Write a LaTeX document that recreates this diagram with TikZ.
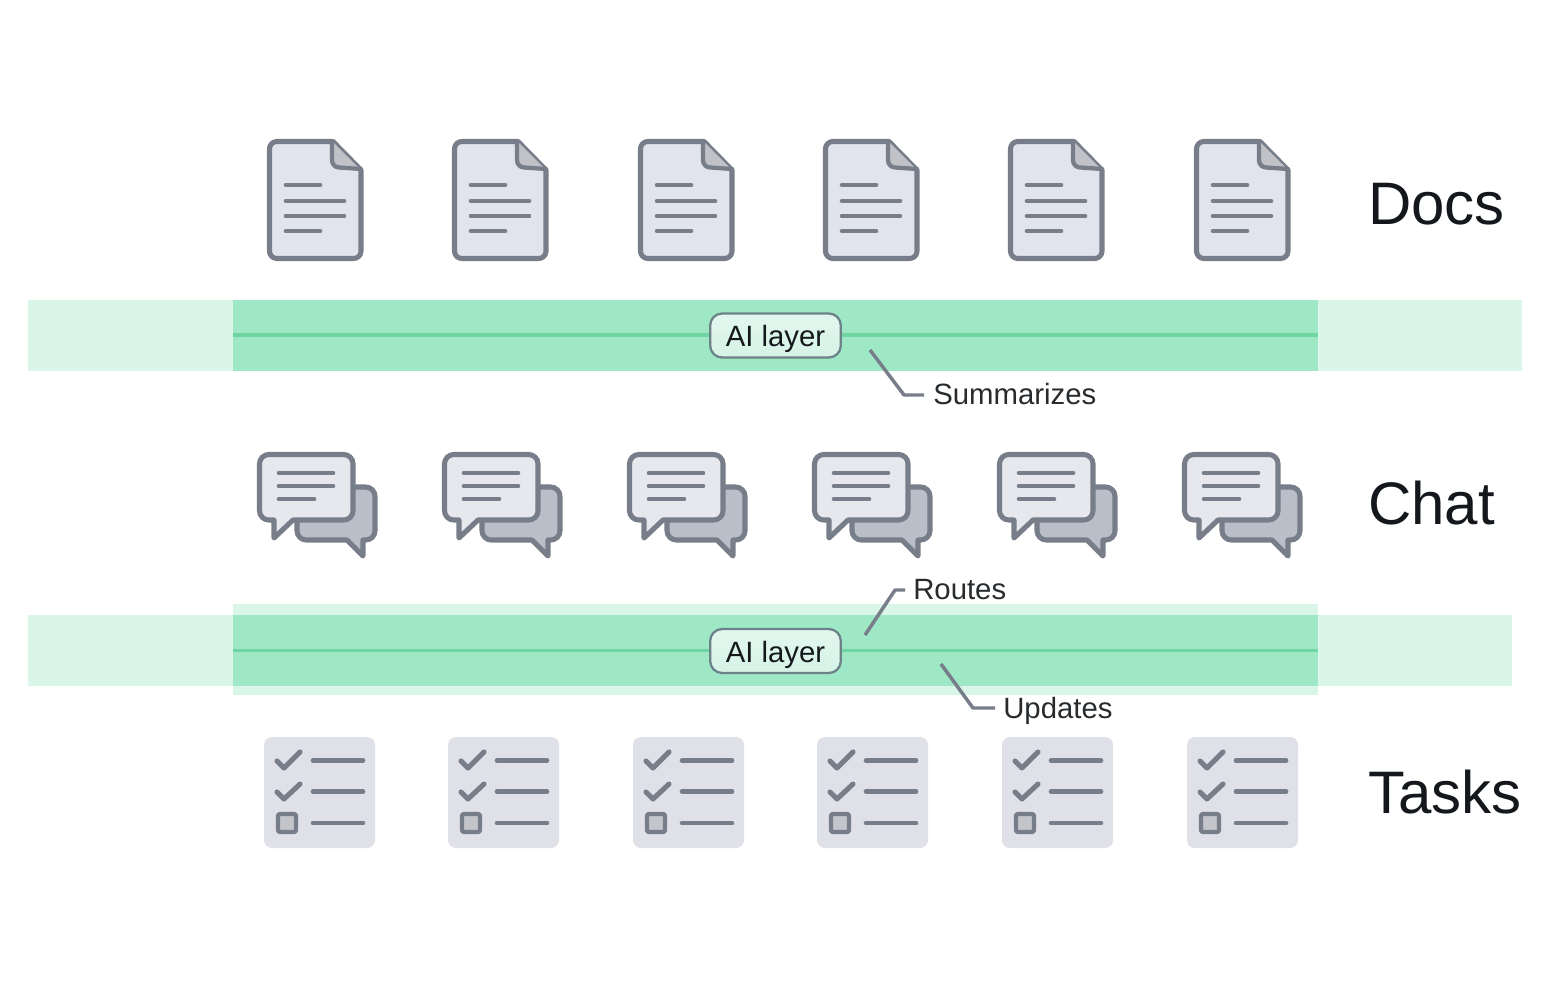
\documentclass[tikz,border=0pt]{standalone}
\usepackage{fontspec}
\setmainfont{Liberation Sans}
\definecolor{bandlight}{HTML}{DAF6E9}
\definecolor{banddark}{HTML}{9FE8C6}
\definecolor{bandline}{HTML}{6FD5A2}
\definecolor{iconline}{HTML}{777E8A}
\definecolor{docfill}{HTML}{E2E4ED}
\definecolor{foldfill}{HTML}{C0C2C8}
\definecolor{frontfill}{HTML}{E6E8EE}
\definecolor{backfill}{HTML}{B9BEC8}
\definecolor{tilefill}{HTML}{E0E1E8}
\definecolor{boxfill}{HTML}{C3C5CB}
\definecolor{pillline}{HTML}{6B8288}
\definecolor{inktext}{HTML}{14181C}
\definecolor{pilltop}{HTML}{E2F7EE}
\definecolor{pillbottom}{HTML}{D6F3E6}
\tikzset{
  x=0.75pt,y=-0.75pt,
  iconstroke/.style={draw=iconline,line width=3.8pt,line join=round,line cap=round},
  textline/.style={draw=iconline,line width=3.5pt,line cap=round},
  leader/.style={draw=iconline,line width=2.6pt,line join=round},
  centerline/.style={draw=bandline,line width=2.4pt},
  pill/.style={draw=pillline,line width=1.7pt,rounded corners=9pt,top color=pilltop,bottom color=pillbottom,
    minimum width=98pt,minimum height=33pt,inner sep=0pt,text=inktext,font=\fontsize{22}{26}\selectfont,
    text height=20pt,text depth=3pt},
  rowlabel/.style={anchor=base west,inner sep=0pt,text=inktext,font=\fontsize{45}{50}\selectfont},
  calllabel/.style={anchor=base west,inner sep=0pt,text=inktext!92!white,font=\fontsize{22}{26}\selectfont},
  docicon/.pic={
    \path[iconstroke,fill=docfill,rounded corners=5.5pt] (2.5,119.5) -- (2.5,2.5) [sharp corners] -- (66,2.5) -- (94,31) [rounded corners=5.5pt] -- (94,119.5) -- cycle;
    \path[fill=foldfill] (66,3) -- (94,31) -- (66,29) -- cycle;
    \draw[iconline,line width=3.2pt,line cap=round,line join=round,rounded corners=5pt] (65,3) -- (65,28) -- (94,30);
    \draw[textline] (19,46) -- (53,46);
    \draw[textline] (19,62) -- (77,62);
    \draw[textline] (19,77) -- (77,77);
    \draw[textline] (19,92) -- (53,92);
  },
  chaticon/.pic={
    \path[iconstroke,fill=backfill,rounded corners=7pt] (40,35) -- (118,35) -- (118,88) [sharp corners] -- (106,88) -- (106,104) -- (90,88) [rounded corners=7pt] -- (40,88) -- cycle;
    \path[iconstroke,fill=frontfill,rounded corners=7pt] (2.5,2.5) -- (96,2.5) -- (96,68) [sharp corners] -- (36,68) -- (17,86) -- (17,68) [rounded corners=7pt] -- (2.5,68) -- cycle;
    \draw[textline] (22,21) -- (76,21);
    \draw[textline] (22,34) -- (76,34);
    \draw[textline] (22,47) -- (57,47);
  },
  taskicon/.pic={
    \path[fill=tilefill,rounded corners=6pt] (0,0) rectangle (111,111);
    \draw[iconstroke] (13,24) -- (20,31) -- (36,15);
    \draw[iconstroke] (13,55) -- (20,62) -- (36,47);
    \path[iconstroke,line width=3.2pt,fill=boxfill,rounded corners=1.5pt] (14,77) rectangle (32,95);
    \draw[textline] (49,23.5) -- (99,23.5);
    \draw[textline] (49,54.5) -- (99,54.5);
    \draw[textline] (49,86) -- (99,86);
  }
}
\begin{document}
\begin{tikzpicture}
\useasboundingbox (0,0) rectangle (1556,1000);
\fill[white] (0,0) rectangle (1556,1000);
% bands
\fill[bandlight] (28,300) rectangle (1522,371);
\fill[banddark] (233,300) rectangle (1318,371);
\fill[bandlight] (28,615) rectangle (1512,686);
\fill[bandlight] (233,604) rectangle (1318,695);
\fill[banddark] (233,615) rectangle (1318,686);
% icons
\foreach \i/\xd/\xc/\xt in {1/267/257/264,2/452/442/448,3/638/627/633,4/823/812/817,5/1008/997/1002,6/1194/1182/1187}{
  \pic (doc\i) at (\xd,139) {docicon};
  \pic (chat\i) at (\xc,452) {chaticon};
  \pic (task\i) at (\xt,737) {taskicon};
}
% row labels
\node[rowlabel] (docslabel) at (1368,224) {Docs};
\node[rowlabel] (chatlabel) at (1368,524) {Chat};
\node[rowlabel] (taskslabel) at (1368,813) {Tasks};
% AI layers
\node[pill] (ai1) at (775.5,335.5) {AI layer};
\node[pill] (ai2) at (775.5,651) {AI layer};
\coordinate (l1a) at (233,335);
\coordinate (l1b) at (1318,335);
\coordinate (l2a) at (233,650.5);
\coordinate (l2b) at (1318,650.5);
\draw[centerline] (l1a) -- (ai1.west |- l1a);
\draw[centerline] (ai1.east |- l1b) -- (l1b);
\draw[centerline] (l2a) -- (ai2.west |- l2a);
\draw[centerline] (ai2.east |- l2b) -- (l2b);
% callouts
\node[calllabel] (summ) at (933,404) {Summarizes};
\node[calllabel] (routes) at (913,599) {Routes};
\node[calllabel] (updates) at (1003,718) {Updates};
\coordinate (c1s) at (870,350);
\coordinate (c1b) at (904,395);
\coordinate (c1e) at (924,395);
\coordinate (c2s) at (865,635);
\coordinate (c2b) at (895,590);
\coordinate (c2e) at (905,590);
\coordinate (c3s) at (941,664);
\coordinate (c3b) at (973,708);
\coordinate (c3e) at (995,708);
\draw[leader] (c1s) -- (c1b) -- (c1e);
\draw[leader] (c2s) -- (c2b) -- (c2e);
\draw[leader] (c3s) -- (c3b) -- (c3e);
\end{tikzpicture}
\end{document}
